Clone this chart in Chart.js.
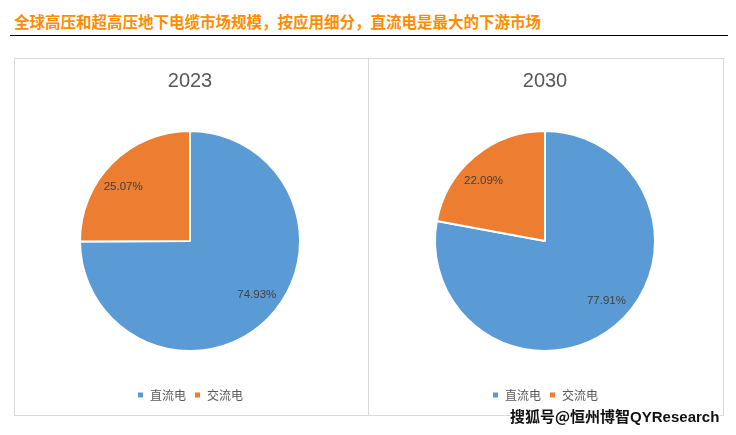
<!DOCTYPE html>
<html><head><meta charset="utf-8">
<script src="https://cdn.jsdelivr.net/npm/chart.js@4.4.0/dist/chart.umd.min.js"></script>
<style>
body{margin:0;background:#fff;width:736px;height:435px;position:relative;overflow:hidden;font-family:"Noto Sans CJK SC","Noto Sans",sans-serif;}
#title{position:absolute;left:14px;top:10px;font-size:15.5px;font-weight:bold;color:#FF8C00;white-space:nowrap;}
#rule{position:absolute;left:10px;top:35px;width:718px;height:1px;background:#000;}
#box{position:absolute;left:14px;top:58px;width:708px;height:356px;border:1px solid #d9d9d9;}
#div{position:absolute;left:368px;top:58px;width:1px;height:357px;background:#d9d9d9;}
.c{position:absolute;top:59px;width:354px;height:356px;}
#wm{position:absolute;left:510px;top:405px;font-size:15px;font-weight:bold;color:#111;white-space:nowrap;
text-shadow:-1px -1px 0 #fff,1px -1px 0 #fff,-1px 1px 0 #fff,1px 1px 0 #fff,0 1px 0 #fff,0 -1px 0 #fff,1px 0 0 #fff,-1px 0 0 #fff;}
#wm span{font-family:"Liberation Sans",Arial,sans-serif;}
</style></head>
<body>
<div id="title">全球高压和超高压地下电缆市场规模，按应用细分，直流电是最大的下游市场</div>
<div id="rule"></div>
<div id="box"></div>
<div id="div"></div>
<div class="c" style="left:15px"><canvas id="c1"></canvas></div>
<div class="c" style="left:369px"><canvas id="c2"></canvas></div>
<div id="wm">搜狐号@恒州博智<span>QYResearch</span></div>
<script>
const categories = ["直流电", "交流电"];
const years = ["2023", "2030"];
const values2023 = [74.93, 25.07];
const values2030 = [77.91, 22.09];
const colors = ["#5B9BD5", "#ED7D31"];

const labelPlugin = {
  id: 'pieLabels',
  afterDatasetsDraw(chart) {
    const ctx = chart.ctx;
    const meta = chart.getDatasetMeta(0);
    const data = chart.data.datasets[0].data;
    ctx.save();
    ctx.font = '11.5px "Liberation Sans", Arial, sans-serif';
    ctx.fillStyle = '#404040';
    ctx.textAlign = 'center';
    ctx.textBaseline = 'middle';
    meta.data.forEach((arc, i) => {
      const mid = (arc.startAngle + arc.endAngle) / 2 - 6 * Math.PI / 180;
      const r = arc.outerRadius * 0.78;
      const x = arc.x + Math.cos(mid) * r;
      const y = arc.y + Math.sin(mid) * r;
      ctx.fillText(data[i].toFixed(2) + '%', x, y);
    });
    ctx.restore();
  }
};

function make(id, year, vals, padR) {
  new Chart(document.getElementById(id), {
    type: 'pie',
    data: { labels: categories, datasets: [{ data: vals, backgroundColor: colors, borderColor: '#fff', borderWidth: 2, radius: 110 }] },
    options: {
      responsive: true, maintainAspectRatio: false, animation: false,
      layout: { padding: { top: 0, bottom: 4, left: 0, right: padR } },
      plugins: {
        title: { display: true, text: year, color: '#595959', font: { size: 20, family: '"Liberation Sans", Arial, sans-serif', weight: 'normal' }, padding: { top: 10, bottom: 8 } },
        legend: { position: 'bottom', labels: { color: '#595959', boxWidth: 7, boxHeight: 7, font: { size: 12, family: '"Noto Sans CJK SC", sans-serif' }, padding: 8 } },
        tooltip: { enabled: false }
      }
    },
    plugins: [labelPlugin]
  });
}
make('c1', years[0], values2023, 4);
make('c2', years[1], values2030, 2);
</script>
</body></html>
